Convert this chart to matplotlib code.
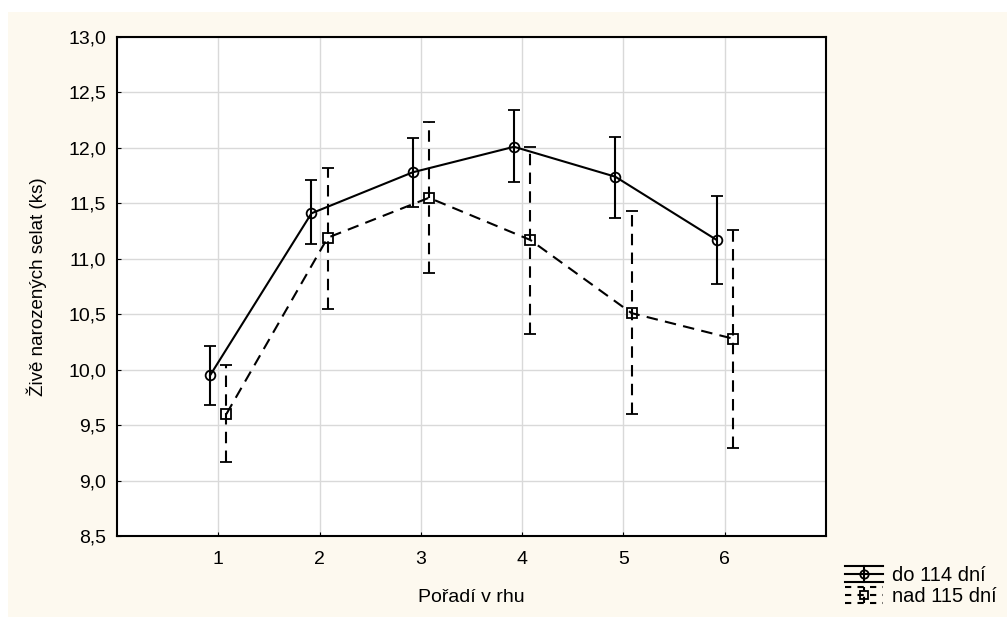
import matplotlib
matplotlib.use("Agg")
import matplotlib.pyplot as plt
from matplotlib.patches import Rectangle
from matplotlib.lines import Line2D
from matplotlib.legend_handler import HandlerBase

plt.rcParams['font.family'] = ['Liberation Sans', 'DejaVu Sans']

categories = [1, 2, 3, 4, 5, 6]
tick_labels = ["1", "2", "3", "4", "5", "6"]

s1_name = "do 114 dní"
s1_mean = [9.95, 11.41, 11.78, 12.01, 11.74, 11.17]
s1_low = [9.68, 11.13, 11.47, 11.69, 11.37, 10.77]
s1_high = [10.21, 11.71, 12.09, 12.34, 12.10, 11.57]

s2_name = "nad 115 dní"
s2_mean = [9.60, 11.19, 11.55, 11.17, 10.51, 10.28]
s2_low = [9.17, 10.55, 10.87, 10.32, 9.60, 9.29]
s2_high = [10.04, 11.82, 12.23, 12.01, 11.43, 11.26]

y_ticks = [8.5, 9.0, 9.5, 10.0, 10.5, 11.0, 11.5, 12.0, 12.5, 13.0]

bg = "#FDF9EF"
DASH = (0, (5.5, 3.5))
fig = plt.figure(figsize=(10.07, 6.17), dpi=100)
fig.patch.set_facecolor("white")
fig.patches.append(Rectangle((8 / 1007, 0), 1 - 8 / 1007, 1 - 12 / 617,
                             transform=fig.transFigure, facecolor=bg,
                             edgecolor="none", zorder=-10))

ax = fig.add_axes([117 / 1007, 1 - 536 / 617, 709 / 1007, 499 / 617])
ax.set_facecolor("white")

off = 0.08
x1 = [c - off for c in categories]
x2 = [c + off for c in categories]
err1 = [[m - l for m, l in zip(s1_mean, s1_low)], [h - m for m, h in zip(s1_mean, s1_high)]]
err2 = [[m - l for m, l in zip(s2_mean, s2_low)], [h - m for m, h in zip(s2_mean, s2_high)]]

CAP = 4.5
e1 = ax.errorbar(x1, s1_mean, yerr=err1, color="black", lw=1.5, elinewidth=1.5,
                 capsize=CAP, capthick=1.5, marker="o", ms=7, mfc="none", mec="black",
                 mew=1.3, zorder=3)
e2 = ax.errorbar(x2, s2_mean, yerr=err2, color="black", lw=1.5, elinewidth=1.5,
                 capsize=CAP, capthick=1.5, marker="s", ms=6.5, mfc="none", mec="black",
                 mew=1.3, ls=DASH, zorder=3)
for bar in e2[2]:
    bar.set_linestyle(DASH)

ax.set_xlim(0, 7)
ax.set_ylim(8.5, 13.0)
ax.set_xticks(categories)
ax.set_xticklabels(tick_labels)
ax.set_yticks(y_ticks)
ax.set_yticklabels([f"{v:.1f}".replace(".", ",") for v in y_ticks])
ax.grid(True, color="#D9D9D9", lw=1)
ax.set_axisbelow(True)
ax.tick_params(direction="in", length=3, labelsize=14, color="black")
ax.tick_params(axis="x", pad=11)
ax.tick_params(axis="y", pad=8)
for s in ax.spines.values():
    s.set_linewidth(1.5)

ax.set_xlabel("Pořadí v rhu", fontsize=14, labelpad=15)
ax.set_ylabel("Živě narozených selat (ks)", fontsize=13.5, labelpad=15)


class EBHandler(HandlerBase):
    def __init__(self, marker, ms, ls):
        super().__init__()
        self.marker = marker
        self.ms = ms
        self.ls = ls

    def create_artists(self, legend, orig_handle, xdescent, ydescent, width,
                       height, fontsize, trans):
        x0 = -xdescent
        xa = x0 + width
        xm = x0 + width / 2
        yc = -ydescent + height / 2
        dy = height / 2
        kw = dict(color="black", lw=1.5, ls=self.ls)
        arts = [
            Line2D([x0, xa], [yc, yc], **kw),
            Line2D([x0, xa], [yc + dy, yc + dy], **kw),
            Line2D([x0, xa], [yc - dy, yc - dy], **kw),
            Line2D([xm, xm], [yc - dy, yc + dy], **kw),
            Line2D([xm], [yc], marker=self.marker, ms=self.ms, mfc="none",
                   mec="black", mew=1.3, ls="none"),
        ]
        for a in arts:
            a.set_transform(trans)
        return arts


h1 = Line2D([], [], color="black")
h2 = Line2D([], [], color="black")
fig.legend(handles=[h1, h2], labels=[s1_name, s2_name], loc="upper left",
           bbox_to_anchor=(845 / 1007, 1 - 566 / 617), frameon=False, fontsize=14.5,
           handlelength=1.9, handleheight=0.85, handletextpad=0.45,
           labelspacing=0.12, borderpad=0, borderaxespad=0,
           handler_map={h1: EBHandler("o", 6, "-"),
                        h2: EBHandler("s", 5.5, (0, (3, 3)))})

fig.savefig("out.png", dpi=100, facecolor=fig.get_facecolor())
